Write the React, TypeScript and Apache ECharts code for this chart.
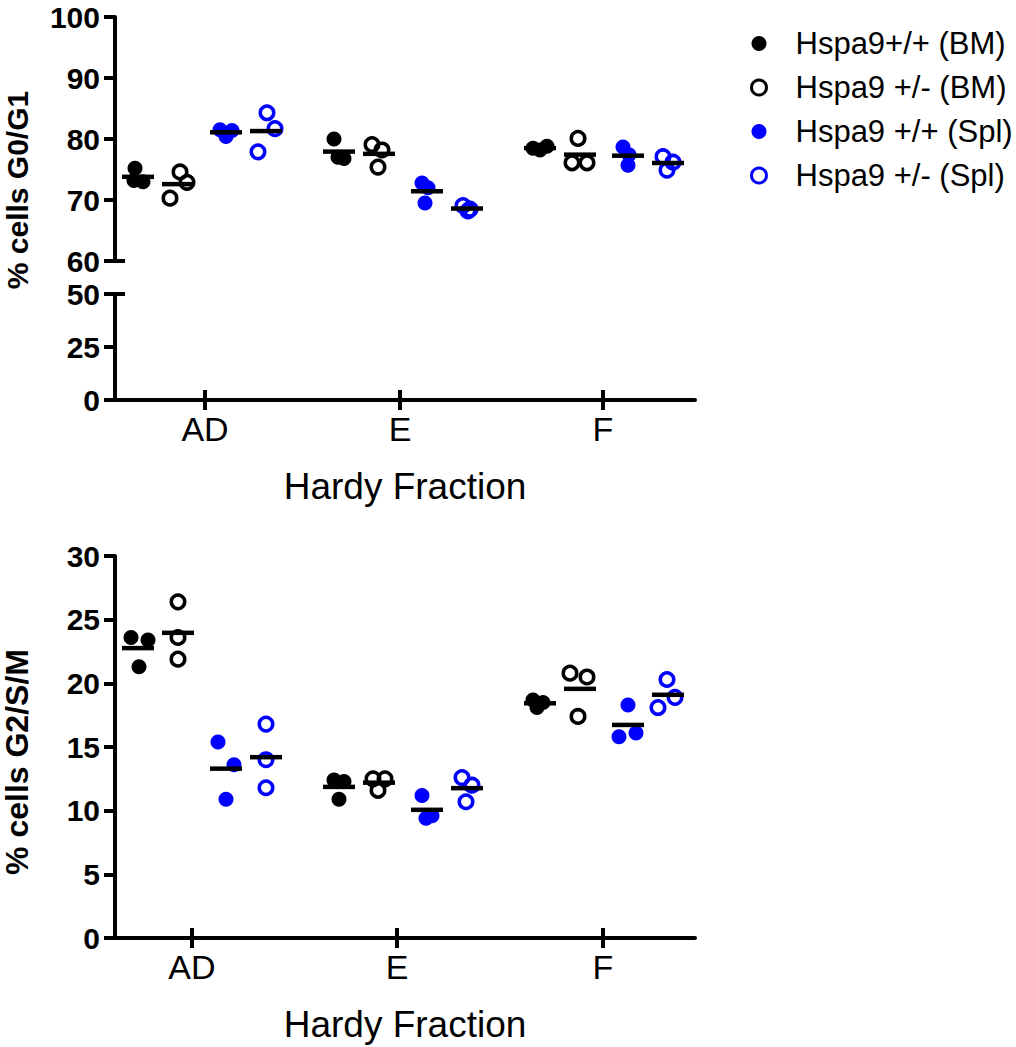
import React, { useEffect, useRef } from "react";
import * as echarts from "echarts";

// ---------- data ----------
const CATEGORIES = ["AD", "E", "F"];
const GROUPS = ["Hspa9+/+ (BM)", "Hspa9 +/- (BM)", "Hspa9 +/+ (Spl)", "Hspa9 +/- (Spl)"];

// % cells G0/G1 — per category (AD, E, F), 3 replicates each
const G0G1_BM_WT = [[75.2, 73.2, 73.0], [80.0, 77.0, 76.8], [78.8, 78.5, 78.2]];
const G0G1_BM_HET = [[74.6, 72.9, 70.3], [79.1, 78.2, 75.4], [80.1, 76.1, 76.1]];
const G0G1_SPL_WT = [[81.5, 81.4, 80.4], [72.8, 72.0, 69.5], [78.7, 77.4, 75.7]];
const G0G1_SPL_HET = [[84.3, 81.7, 77.9], [69.1, 68.5, 68.2], [77.1, 76.2, 74.9]];

// % cells G2/S/M
const G2SM_BM_WT = [[23.6, 23.4, 21.3], [12.4, 12.3, 10.9], [18.7, 18.5, 18.1]];
const G2SM_BM_HET = [[26.4, 23.6, 21.9], [12.5, 12.5, 11.6], [20.8, 20.5, 17.4]];
const G2SM_SPL_WT = [[15.4, 13.6, 10.9], [11.2, 9.6, 9.4], [18.3, 15.8, 16.1]];
const G2SM_SPL_HET = [[16.8, 14.0, 11.8], [12.6, 12.0, 10.7], [20.3, 18.9, 18.1]];

const TOP_UPPER_TICKS = [60, 70, 80, 90, 100];
const TOP_LOWER_TICKS = [0, 25, 50];
const BOTTOM_TICKS = [0, 5, 10, 15, 20, 25, 30];

// ---------- layout ----------
const PX_PER_UNIT = 201;
const GROUP_OFFSET = [-64, -24, 24, 64].map((p) => p / PX_PER_UNIT);
// horizontal scatter of replicate points (px), [group][category][replicate]
const JITTER_TOP = [
  [[-3, -4, 5], [-5, -1, 5], [7, -7, 0]],
  [[2, 9, -8], [-7, 3, -1], [-2, -8, 7]],
  [[-6, 6, 0], [-5, 1, -2], [-5, 1, 0]],
  [[1, 9, -8], [-4, 3, 1], [-5, 5, -1]],
];
const JITTER_BOTTOM = [
  [[-7, 10, 1], [-5, 5, 0], [-7, 3, -3]],
  [[0, 0, 0], [-6, 6, -1], [-10, 7, -2]],
  [[-8, 8, 0], [-5, 5, -1], [0, -9, 8]],
  [[0, 0, 0], [-5, 5, -1], [-1, 7, -10]],
];
const TOP_X_TICKS = [1.015, 1.985, 2.995];
const BOTTOM_X_TICKS = [0.95, 1.97, 2.995];
const X_MIN = 1 - 87 / PX_PER_UNIT;
const X_MAX = 3 + 91 / PX_PER_UNIT;

const BLUE = "#0000ff";
const BLACK = "#000000";
const FONT = "'Liberation Sans', Arial, Helvetica, sans-serif";
const COLORS = [BLACK, BLACK, BLUE, BLUE];
const HOLLOW = [false, true, false, true];

const mean = (a: number[]) => a.reduce((s, v) => s + v, 0) / a.length;

function buildSeries(
  groups: number[][][],
  jitter: number[][][],
  xAxisIndex: number,
  yAxisIndex: number
) {
  const out: any[] = [];
  groups.forEach((vals, g) => {
    const pts: number[][] = [];
    vals.forEach((reps, ci) => {
      reps.forEach((v, k) => {
        pts.push([ci + 1 + GROUP_OFFSET[g] + jitter[g][ci][k] / PX_PER_UNIT, v]);
      });
    });
    out.push({
      type: "scatter",
      name: GROUPS[g],
      xAxisIndex,
      yAxisIndex,
      symbol: "circle",
      symbolSize: HOLLOW[g] ? 13.5 : 15,
      itemStyle: HOLLOW[g]
        ? { color: "rgba(0,0,0,0)", borderColor: COLORS[g], borderWidth: 3.5, opacity: 1 }
        : { color: COLORS[g], opacity: 1 },
      data: pts,
      silent: true,
      z: 2,
    });
    out.push({
      type: "scatter",
      name: "mean" + g,
      xAxisIndex,
      yAxisIndex,
      symbol: "rect",
      symbolSize: [32, 4.5],
      itemStyle: { color: BLACK, opacity: 1 },
      data: vals.map((reps, ci) => [ci + 1 + GROUP_OFFSET[g], mean(reps)]),
      silent: true,
      z: 3,
    });
  });
  return out;
}

const AXIS_LINE = { show: true, onZero: false, lineStyle: { color: BLACK, width: 4 } };
const TICK_STYLE = { color: BLACK, width: 4 };

function yMain(gridIndex: number, min: number, max: number, ticks: number[]) {
  return {
    type: "value",
    gridIndex,
    min,
    max,
    position: "left",
    axisLine: AXIS_LINE,
    axisTick: { show: true, length: 11, customValues: ticks, lineStyle: TICK_STYLE },
    axisLabel: {
      show: true,
      customValues: ticks,
      margin: 15,
      color: BLACK,
      fontFamily: FONT,
      fontWeight: "bold",
      fontSize: 30,
    },
    splitLine: { show: false },
  };
}

function yBreak(gridIndex: number, min: number, max: number, at: number) {
  return {
    type: "value",
    gridIndex,
    min,
    max,
    position: "left",
    offset: 0,
    axisLine: { show: false, onZero: false },
    axisTick: { show: true, inside: true, length: 10, customValues: [at], lineStyle: TICK_STYLE },
    axisLabel: { show: false },
    splitLine: { show: false },
  };
}

function xMain(gridIndex: number, ticks: number[]) {
  return {
    type: "value",
    gridIndex,
    position: "bottom",
    min: X_MIN,
    max: X_MAX,
    axisLine: AXIS_LINE,
    axisTick: { show: true, length: 10, customValues: ticks, lineStyle: TICK_STYLE },
    axisLabel: {
      show: true,
      customValues: ticks,
      margin: 12,
      color: BLACK,
      fontFamily: FONT,
      fontSize: 34,
      formatter: (v: number) => CATEGORIES[Math.round(v) - 1] ?? "",
    },
    splitLine: { show: false },
    name: "Hardy Fraction",
    nameLocation: "middle",
    nameGap: 68,
    nameTextStyle: { color: BLACK, fontFamily: FONT, fontSize: 37 },
  };
}

function xInside(gridIndex: number, ticks: number[]) {
  return {
    type: "value",
    gridIndex,
    position: "bottom",
    offset: 0,
    min: X_MIN,
    max: X_MAX,
    axisLine: { show: false, onZero: false },
    axisTick: { show: true, inside: true, length: 10, customValues: ticks, lineStyle: TICK_STYLE },
    axisLabel: { show: false },
    splitLine: { show: false },
  };
}

export default function App() {
  const ref = useRef<HTMLDivElement>(null);
  useEffect(() => {
    if (!ref.current) return;
    const chart = echarts.init(ref.current, undefined, { renderer: "svg" });
    const legendData = GROUPS.map((name, g) => ({
      name,
      icon: "circle",
      itemStyle: HOLLOW[g]
        ? { color: "rgba(0,0,0,0)", borderColor: COLORS[g], borderWidth: 3 }
        : { color: COLORS[g], borderWidth: 0 },
    }));
    chart.setOption({
      animation: false,
      backgroundColor: "#ffffff",
      grid: [
        { left: 115, top: 17, width: 580, height: 244 },
        { left: 115, top: 294, width: 580, height: 106 },
        { left: 115, top: 556, width: 580, height: 382 },
      ],
      xAxis: [
        { type: "value", gridIndex: 0, position: "bottom", min: X_MIN, max: X_MAX, show: false },
        xMain(1, TOP_X_TICKS),
        xInside(1, TOP_X_TICKS),
        xMain(2, BOTTOM_X_TICKS),
        xInside(2, BOTTOM_X_TICKS),
      ],
      yAxis: [
        yMain(0, 60, 100, TOP_UPPER_TICKS),
        yBreak(0, 60, 100, 60),
        yMain(1, 0, 50, TOP_LOWER_TICKS),
        yBreak(1, 0, 50, 50),
        yMain(2, 0, 30, BOTTOM_TICKS),
      ],
      legend: {
        show: true,
        orient: "vertical",
        left: 745,
        top: 23,
        itemWidth: 15,
        itemHeight: 15,
        itemGap: 13,
        selectedMode: false,
        data: legendData,
        textStyle: {
          color: BLACK,
          fontFamily: FONT,
          fontSize: 31,
          lineHeight: 30,
          padding: [0, 0, 0, 24],
        },
      },
      graphic: [
        {
          type: "text",
          x: 17,
          y: 190,
          rotation: Math.PI / 2,
          style: {
            text: "% cells G0/G1",
            fontFamily: FONT,
            fontWeight: "bold",
            fontSize: 30,
            fill: BLACK,
            align: "center",
            verticalAlign: "middle",
          },
        },
        {
          type: "text",
          x: 17,
          y: 762,
          rotation: Math.PI / 2,
          style: {
            text: "% cells G2/S/M",
            fontFamily: FONT,
            fontWeight: "bold",
            fontSize: 32,
            fill: BLACK,
            align: "center",
            verticalAlign: "middle",
          },
        },
      ],
      series: [
        ...buildSeries([G0G1_BM_WT, G0G1_BM_HET, G0G1_SPL_WT, G0G1_SPL_HET], JITTER_TOP, 0, 0),
        ...buildSeries([G2SM_BM_WT, G2SM_BM_HET, G2SM_SPL_WT, G2SM_SPL_HET], JITTER_BOTTOM, 3, 4),
      ],
    });
    return () => chart.dispose();
  }, []);
  return (
    <div
      ref={ref}
      style={{ position: "absolute", left: 0, top: 0, width: 1016, height: 1047, background: "#fff" }}
    />
  );
}
